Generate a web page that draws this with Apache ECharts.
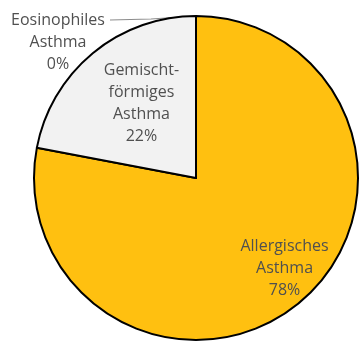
<!DOCTYPE html>
<html>
<head>
<meta charset="utf-8">
<script src="https://cdn.jsdelivr.net/npm/echarts@6/dist/echarts.min.js"></script>
<style>
  html, body { margin: 0; padding: 0; background: #fff; }
  #chart { width: 360px; height: 345px; }
</style>
</head>
<body>
<div id="chart"></div>
<script>
// Asthma types, share in percent
const categories = ['Allergisches\nAsthma', 'Gemischt-\nförmiges\nAsthma', 'Eosinophiles\nAsthma'];
const shares = [78, 22, 0];
const sliceColors = ['#FFC010', '#F2F2F2', '#BFBFBF'];

const pieCenter = [196, 178];
const pieRadius = 162;

const chart = echarts.init(document.getElementById('chart'));

const labelFont = {
  fontFamily: 'Open Sans',
  fontSize: 16,
  fontWeight: 500,
  lineHeight: 22,
  color: '#505050'
};

const data = categories.map((name, i) => {
  const item = {
    name: name,
    value: shares[i],
    itemStyle: { color: sliceColors[i] }
  };
  if (i === 0) {
    item.label = { position: 'inside', offset: [35, 26] };
  } else if (i === 1) {
    item.label = { position: 'inside', offset: [-1, -10] };
  } else {
    item.label = { position: 'outside' };
    item.labelLine = { show: true, lineStyle: { color: '#8C8C8C', width: 1.2 } };
  }
  return item;
});

chart.setOption({
  backgroundColor: '#fff',
  animation: false,
  series: [{
    type: 'pie',
    center: pieCenter,
    radius: pieRadius,
    startAngle: 90,
    clockwise: true,
    avoidLabelOverlap: false,
    stillShowZeroSum: true,
    itemStyle: { borderColor: '#000', borderWidth: 2 },
    label: Object.assign({
      show: true,
      align: 'center',
      formatter: p => p.name + '\n' + p.value + '%'
    }, labelFont),
    labelLine: { show: false },
    labelLayout: function (params) {
      if (params.dataIndex === 2) {
        // zero-share slice: label placed to the upper left, leader runs to the top of the pie
        const top = [pieCenter[0], pieCenter[1] - pieRadius];
        return {
          x: 58, y: 42, align: 'center', verticalAlign: 'middle',
          labelLinePoints: [top, [top[0] - 45, top[1] + 3], [110, 20]]
        };
      }
      return {};
    },
    data: data
  }]
});
</script>
</body>
</html>
